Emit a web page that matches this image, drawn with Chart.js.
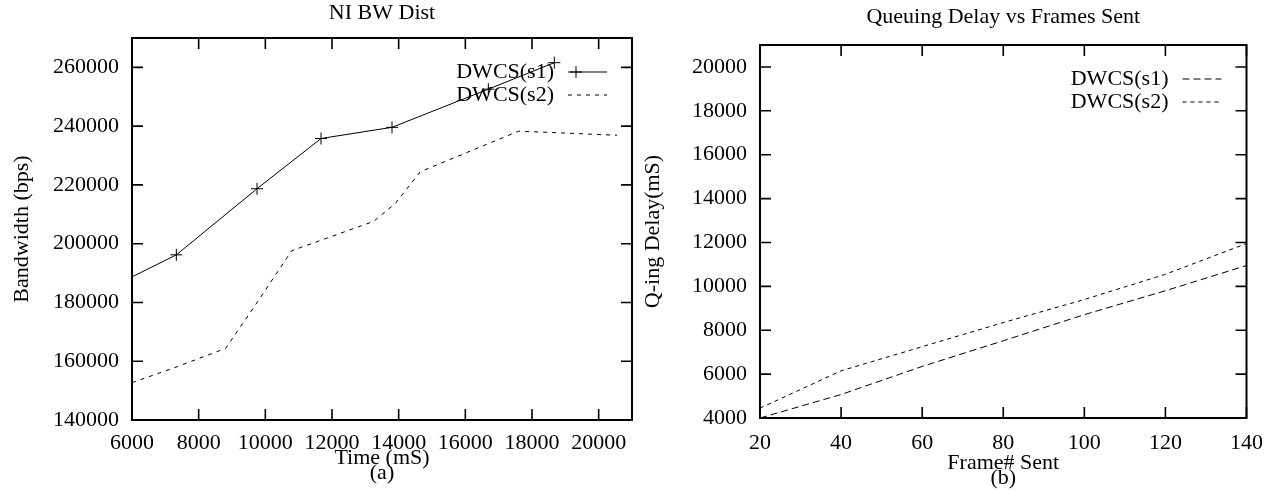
<!DOCTYPE html>
<html>
<head>
<meta charset="utf-8">
<script src="https://cdn.jsdelivr.net/npm/chart.js@4.4.1/dist/chart.umd.min.js"></script>
<style>
  html, body { margin: 0; padding: 0; background: #fff; }
  #wrap { position: relative; width: 1275px; height: 491px; }
  .box { position: absolute; top: 0; height: 491px; }
  #boxA { left: 0; width: 640px; }
  #boxB { left: 640px; width: 635px; }
</style>
</head>
<body>
<div id="wrap">
  <div class="box" id="boxA"><canvas id="chartA"></canvas></div>
  <div class="box" id="boxB"><canvas id="chartB"></canvas></div>
</div>
<script>
// (a) NI BW Dist
const timeS1 = [6000, 7330, 9750, 11670, 13800, 16690, 18670];
const bwS1   = [188700, 196200, 218700, 235800, 239600, 252600, 261600];
const timeS2 = [6000, 7370, 8810, 9670, 10790, 13250, 13900, 14650, 17600, 20550];
const bwS2   = [152700, 158200, 164400, 178600, 197600, 207600, 213700, 224500, 238300, 236900];
const timeTicks = [6000, 8000, 10000, 12000, 14000, 16000, 18000, 20000];
const bwTicks   = [140000, 160000, 180000, 200000, 220000, 240000, 260000];

// (b) Queuing Delay vs Frames Sent
const framesSent = [20, 40, 60, 80, 100, 120, 140];
const delayS1 = [4000, 5070, 6350, 7520, 8710, 9800, 10950];
const delayS2 = [4450, 6150, 7250, 8350, 9400, 10550, 11950];
const frameTicks = [20, 40, 60, 80, 100, 120, 140];
const delayTicks = [4000, 6000, 8000, 10000, 12000, 14000, 16000, 18000, 20000];

const seriesNames = ['DWCS(s1)', 'DWCS(s2)'];

const FONT = { family: '"Liberation Serif", "Times New Roman", serif', size: 22, weight: 'normal' };
const TICK = 11;

function toPoints(xs, ys) {
  return xs.map((x, i) => ({ x: x, y: ys[i] }));
}

// box around the plot with inward ticks on all four sides (gnuplot style)
const gnuFrame = {
  id: 'gnuFrame',
  afterDatasetsDraw(chart) {
    const { ctx, chartArea: a, scales: { x, y } } = chart;
    ctx.save();
    ctx.strokeStyle = '#000';
    ctx.lineWidth = 1.6;
    ctx.setLineDash([]);
    ctx.beginPath();
    x.ticks.forEach(t => {
      const px = x.getPixelForValue(t.value);
      ctx.moveTo(px, a.bottom); ctx.lineTo(px, a.bottom - TICK);
      ctx.moveTo(px, a.top); ctx.lineTo(px, a.top + TICK);
    });
    y.ticks.forEach(t => {
      const py = y.getPixelForValue(t.value);
      ctx.moveTo(a.left, py); ctx.lineTo(a.left + TICK, py);
      ctx.moveTo(a.right, py); ctx.lineTo(a.right - TICK, py);
    });
    ctx.stroke();
    ctx.lineWidth = 2;
    ctx.strokeRect(a.left, a.top, a.right - a.left, a.bottom - a.top);
    ctx.restore();
  }
};

// key in the top right corner: text, then a sample of the line
const gnuKey = {
  id: 'gnuKey',
  afterDatasetsDraw(chart, args, opts) {
    const { ctx, chartArea: a } = chart;
    ctx.save();
    ctx.font = FONT.size + 'px ' + FONT.family;
    ctx.fillStyle = '#000';
    ctx.strokeStyle = '#000';
    ctx.textAlign = 'right';
    ctx.textBaseline = 'middle';
    chart.data.datasets.forEach((ds, i) => {
      const yy = a.top + opts.top + i * opts.gap;
      ctx.fillText(ds.label, a.right - 78, yy);
      ctx.lineWidth = 1;
      ctx.setLineDash(ds.borderDash || []);
      ctx.beginPath();
      ctx.moveTo(a.right - 64, yy);
      ctx.lineTo(a.right - 25, yy);
      ctx.stroke();
      if (ds.pointStyle === 'cross') {
        const cx = a.right - 56;
        ctx.setLineDash([]);
        ctx.beginPath();
        ctx.moveTo(cx - 6, yy); ctx.lineTo(cx + 6, yy);
        ctx.moveTo(cx, yy - 6); ctx.lineTo(cx, yy + 6);
        ctx.stroke();
      }
    });
    ctx.restore();
  }
};

function makeOptions(c) {
  return {
    responsive: true,
    maintainAspectRatio: false,
    animation: false,
    layout: { padding: { left: 0, right: c.padRight, top: 0, bottom: 0 } },
    plugins: {
      legend: { display: false },
      tooltip: { enabled: false },
      title: {
        display: true, text: c.title, color: '#000', fullSize: false,
        font: FONT, padding: c.titlePad
      },
      gnuKey: { top: c.keyTop, gap: 23 }
    },
    scales: {
      x: {
        type: 'linear', min: c.xMin, max: c.xMax,
        grid: { display: false, drawTicks: false },
        border: { display: false },
        afterBuildTicks: s => { s.ticks = c.xTicks.map(v => ({ value: v })); },
        ticks: {
          autoSkip: false, maxRotation: 0, color: '#000', font: FONT,
          padding: c.xTickPad, callback: v => String(v)
        },
        title: {
          display: true, text: [c.xTitle, c.caption], color: '#000',
          font: Object.assign({}, FONT, { lineHeight: 0.7 }),
          padding: { top: 0, bottom: c.xTitlePad }
        },
        afterFit: s => { s.height = c.xHeight; }
      },
      y: {
        type: 'linear', min: c.yMin, max: c.yMax,
        grid: { display: false, drawTicks: false },
        border: { display: false },
        afterBuildTicks: s => { s.ticks = c.yTicks.map(v => ({ value: v })); },
        ticks: {
          autoSkip: false, color: '#000', font: FONT, padding: 13,
          callback: v => String(v)
        },
        title: {
          display: true, text: c.yTitle, color: '#000', font: FONT,
          padding: { top: c.yTitlePad, bottom: 0 }
        },
        afterFit: s => { s.width = c.yWidth; }
      }
    }
  };
}

new Chart(document.getElementById('chartA'), {
  type: 'line',
  data: {
    datasets: [{
      label: seriesNames[0],
      data: toPoints(timeS1, bwS1),
      borderColor: '#000', borderWidth: 1, fill: false, tension: 0,
      pointStyle: 'cross',
      pointRadius: ctx => (ctx.raw && ctx.raw.x <= 6000 ? 0 : 6),
      pointBorderColor: '#000', pointBorderWidth: 1
    }, {
      label: seriesNames[1],
      data: toPoints(timeS2, bwS2),
      borderColor: '#000', borderWidth: 1, borderDash: [4, 5],
      fill: false, tension: 0, pointRadius: 0
    }]
  },
  options: makeOptions({
    title: 'NI BW Dist', titlePad: { top: 0, bottom: 11.6 },
    padRight: 8, keyTop: 34,
    xMin: 6000, xMax: 21000, xTicks: timeTicks, xTickPad: 10,
    xTitle: 'Time (mS)', caption: '(a)', xTitlePad: 10, xHeight: 71,
    yMin: 140000, yMax: 270000, yTicks: bwTicks,
    yTitle: 'Bandwidth (bps)', yTitlePad: 9, yWidth: 132
  }),
  plugins: [gnuFrame, gnuKey]
});

new Chart(document.getElementById('chartB'), {
  type: 'line',
  data: {
    datasets: [{
      label: seriesNames[0],
      data: toPoints(framesSent, delayS1),
      borderColor: '#000', borderWidth: 1, borderDash: [7, 4],
      fill: false, tension: 0, pointRadius: 0
    }, {
      label: seriesNames[1],
      data: toPoints(framesSent, delayS2),
      borderColor: '#000', borderWidth: 1, borderDash: [4, 4],
      fill: false, tension: 0, pointRadius: 0
    }]
  },
  options: makeOptions({
    title: 'Queuing Delay vs Frames Sent', titlePad: { top: 4, bottom: 14.6 },
    padRight: 26, keyTop: 34,
    xMin: 20, xMax: 140, xTicks: frameTicks, xTickPad: 12,
    xTitle: 'Frame# Sent', caption: '(b)', xTitlePad: 5, xHeight: 73,
    yMin: 4000, yMax: 21000, yTicks: delayTicks,
    yTitle: 'Q-ing Delay(mS)', yTitlePad: 0, yWidth: 120
  }),
  plugins: [gnuFrame, gnuKey]
});
</script>
</body>
</html>
